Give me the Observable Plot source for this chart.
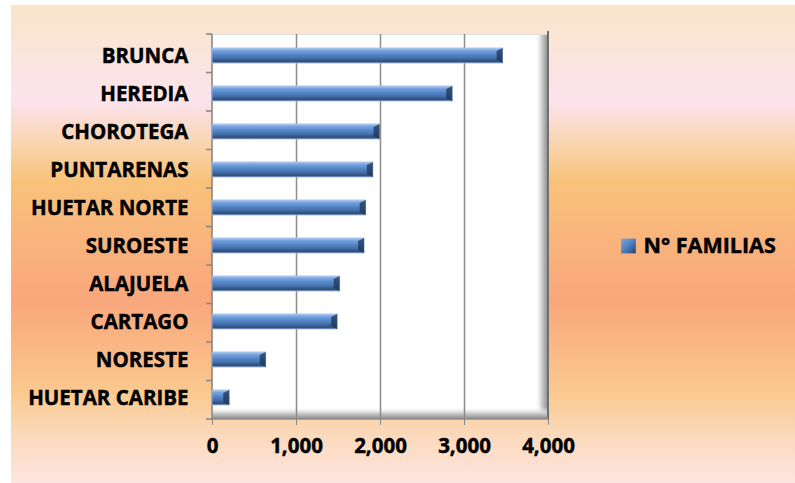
<!DOCTYPE html>
<html>
<head>
<meta charset="utf-8">
<script src="https://cdn.jsdelivr.net/npm/d3@7"></script>
<script src="https://cdn.jsdelivr.net/npm/@observablehq/plot@0.6"></script>
<style>
  html, body { margin: 0; padding: 0; background: white; }
</style>
</head>
<body>
<div id="chart"></div>
<script>
const categories = ["BRUNCA", "HEREDIA", "CHOROTEGA", "PUNTARENAS", "HUETAR NORTE",
  "SUROESTE", "ALAJUELA", "CARTAGO", "NORESTE", "HUETAR CARIBE"];
const familias = [3460, 2860, 1995, 1915, 1830, 1810, 1520, 1490, 640, 205];
const xTicks = [0, 1000, 2000, 3000, 4000];
const seriesName = "N° FAMILIAS";

const data = categories.map((c, i) => ({region: c, value: familias[i]}));

const W = 795, H = 483;
const mL = 212, mR = 247, mT = 34, mB = 64;
const font = "'Open Sans', sans-serif";
const bgCss = "linear-gradient(to bottom, #f9e6c8 0%, #fce3ee 20%, #f9d3a8 30%, #f8c27a 37%, #f9b37c 50%, #f9a77c 62%, #fab886 72%, #fac98f 81%, #fbd9bb 90%, #fde5e0 100%) 11px 5px / 784px 478px no-repeat, white";

const plot = Plot.plot({
  width: W, height: H,
  marginLeft: mL, marginRight: mR, marginTop: mT, marginBottom: mB,
  style: {fontFamily: font, fontWeight: "bold", fontSize: "20.5px", color: "black", background: bgCss, overflow: "visible", display: "block"},
  x: {domain: [0, 4000], ticks: xTicks, tickFormat: d3.format(","), label: null},
  y: {domain: categories, paddingInner: 0.6, paddingOuter: 0.3, label: null},
  marks: [
    Plot.frame({fill: "white", stroke: "none"}),
    Plot.ruleX(xTicks.slice(1, -1), {stroke: "#8c8c8c", strokeWidth: 1.5}),
    Plot.axisX({ticks: xTicks, tickFormat: d3.format(","), tickSize: 6, tickPadding: 13, stroke: "#888", fontSize: 20.5, fontWeight: "bold", fill: "black"}),
    Plot.axisY({tickSize: 0, tickPadding: 24, fontSize: 20.5, fontWeight: "bold", fill: "black"}),
    Plot.barX(data, {y: "region", x: "value", fill: "url(#barGrad)", stroke: "#9dbbe6", strokeWidth: 0.8}),
    Plot.text([seriesName], {frameAnchor: "left", dx: 431, dy: 19, textAnchor: "start", fontSize: 21.5, fontWeight: "bold", fill: "black"}),
    Plot.dot([seriesName], {frameAnchor: "left", dx: 416, dy: 19, symbol: "square", r: 8.3, fill: "url(#legGrad)", stroke: "none"})
  ]
});

document.getElementById("chart").appendChild(plot);

// decorations computed from the scales
const svg = d3.select(plot);
const xs = plot.scale("x");
const x0 = xs.apply(0), x1 = xs.apply(4000);
const yTop = mT, yBot = H - mB;
const defs = svg.insert("defs", ":first-child");
const bg = defs.append("linearGradient").attr("id", "barGrad").attr("x1", 0).attr("y1", 0).attr("x2", 0).attr("y2", 1);
[[0, "#b3cdf0"], [0.15, "#7aa5e0"], [0.42, "#5587c9"], [0.68, "#4470aa"], [0.88, "#2f4d78"], [1, "#4a6a98"]]
  .forEach(([o, c]) => bg.append("stop").attr("offset", o).attr("stop-color", c));
const lg = defs.append("linearGradient").attr("id", "legGrad").attr("x1", 0).attr("y1", 0).attr("x2", 1).attr("y2", 1);
[[0, "#7ea7e0"], [0.5, "#4f7fc0"], [1, "#24426b"]]
  .forEach(([o, c]) => lg.append("stop").attr("offset", o).attr("stop-color", c));
const sr = defs.append("linearGradient").attr("id", "shR").attr("x1", 0).attr("x2", 1).attr("y1", 0).attr("y2", 0);
[[0, "#ffffff", 0], [0.5, "#d0d0d0", 1], [1, "#8a8a8a", 1]].forEach(([o, c, a]) => sr.append("stop").attr("offset", o).attr("stop-color", c).attr("stop-opacity", a));
const sb = defs.append("linearGradient").attr("id", "shB").attr("x1", 0).attr("x2", 0).attr("y1", 0).attr("y2", 1);
[[0, "#ffffff", 0], [0.5, "#d0d0d0", 1], [1, "#8a8a8a", 1]].forEach(([o, c, a]) => sb.append("stop").attr("offset", o).attr("stop-color", c).attr("stop-opacity", a));

// inner shadow of plot box, inserted right after the white frame
const frameNode = svg.select("rect").node();
const g = d3.create("svg:g");
g.append("rect").attr("x", x1 - 13).attr("y", yTop).attr("width", 13).attr("height", yBot - yTop).attr("fill", "url(#shR)");
g.append("rect").attr("x", x0).attr("y", yBot - 12).attr("width", x1 - x0).attr("height", 12).attr("fill", "url(#shB)");
g.append("line").attr("x1", x0).attr("x2", x1).attr("y1", yTop + 0.5).attr("y2", yTop + 0.5).attr("stroke", "#e0e0e0");
frameNode.parentNode.insertBefore(g.node(), frameNode.nextSibling);

// axis lines and boundary ticks
const over = svg.append("g").attr("stroke", "#8a8a8a").attr("stroke-width", 1.6);
over.append("line").attr("x1", x0).attr("x2", x0).attr("y1", yTop).attr("y2", yBot);
over.append("line").attr("x1", x1).attr("x2", x1).attr("y1", yTop - 3).attr("y2", yBot).attr("stroke", "#6f6f6f").attr("stroke-width", 2);
over.append("line").attr("x1", x0).attr("x2", x1).attr("y1", yBot).attr("y2", yBot);
const step = (yBot - yTop) / categories.length;
d3.range(categories.length + 1).forEach(i => {
  over.append("line").attr("x1", x0 - 6).attr("x2", x0).attr("y1", yTop + i * step).attr("y2", yTop + i * step);
});
const barsG = svg.select("g[aria-label='bar']").raise();

// bevelled bar ends, from the rendered bar geometry
const bevel = svg.append("g").attr("fill", "#1c3557").attr("fill-opacity", 0.75);
barsG.selectAll("rect").each(function () {
  const r = d3.select(this);
  const bx = +r.attr("x"), bw = +r.attr("width"), by = +r.attr("y"), bh = +r.attr("height");
  const xe = bx + bw, d = Math.min(6, bw / 2);
  bevel.append("polygon").attr("points",
    `${xe - d},${by + 3} ${xe},${by} ${xe},${by + bh} ${xe - d},${by + bh - 3}`);
});

// heavier text like the reference
svg.selectAll("text").attr("stroke", "black").attr("stroke-width", 0.45);
</script>
</body>
</html>
